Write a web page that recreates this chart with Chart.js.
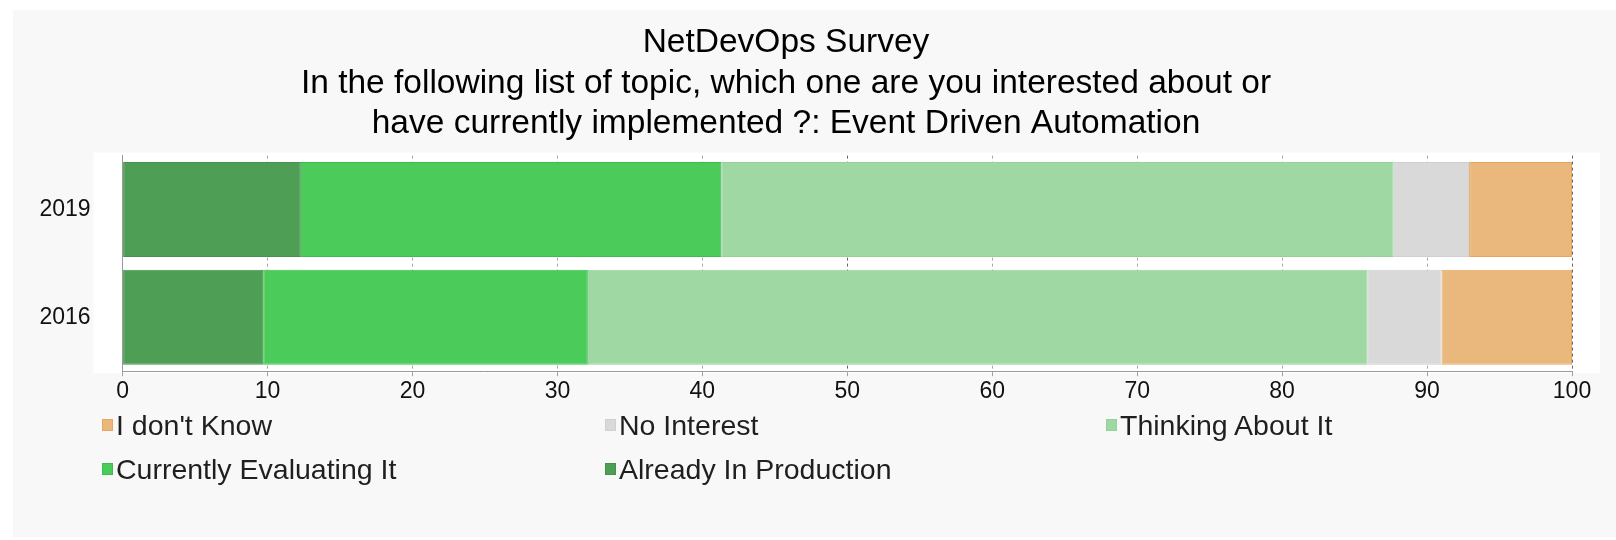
<!DOCTYPE html>
<html>
<head>
<meta charset="utf-8">
<script src="https://cdn.jsdelivr.net/npm/chart.js@4"></script>
<style>
    body {
        margin: 0;
        background: #ffffff;
        font-family: "Liberation Sans", Arial, Helvetica, sans-serif;
    }
    #panel {
        position: absolute;
        left: 13px;
        top: 10px;
        width: 1603px;
        height: 527px;
        background: #f8f8f8;
    }
    #chart-wrap {
        position: absolute;
        left: 0;
        top: 0;
        width: 1616px;
        height: 409px;
    }
    #legend {
        position: absolute;
        left: 102px;
        top: 407px;
        display: grid;
        grid-template-columns: 503px 501px 480px;
        row-gap: 8px;
        font-size: 28.5px;
        color: #1f1f1f;
    }
    .legend-item {
        display: flex;
        align-items: center;
        height: 36px;
    }
    .legend-box {
        width: 9px;
        height: 10px;
        margin-right: 3px;
        border: 1px solid;
    }
</style>
</head>
<body>
<div id="panel"></div>
<div id="chart-wrap"><canvas id="chart"></canvas></div>
<div id="legend"></div>

<script>
const titleLines = [
    'NetDevOps Survey',
    'In the following list of topic, which one are you interested about or',
    'have currently implemented ?: Event Driven Automation'
];
const years = ['2019', '2016'];
const xTicks = [0, 10, 20, 30, 40, 50, 60, 70, 80, 90, 100];

// percent of answers, stacked left to right
const alreadyInProduction = [12.3, 9.7];
const currentlyEvaluating = [29.0, 22.4];
const thinkingAboutIt = [46.4, 53.8];
const noInterest = [5.2, 5.1];
const dontKnow = [7.1, 9.0];

const series = [
    { label: "I don't Know", data: dontKnow, color: '#eab77d', border: '#e3a762' },
    { label: 'No Interest', data: noInterest, color: '#d9d9d9', border: '#cfcfcf' },
    { label: 'Thinking About It', data: thinkingAboutIt, color: '#a0d8a4', border: '#96d19a' },
    { label: 'Currently Evaluating It', data: currentlyEvaluating, color: '#4bcc5a', border: '#3bbf4b' },
    { label: 'Already In Production', data: alreadyInProduction, color: '#4f9e56', border: '#45924c' }
];

// stacked from the left: production first, unknown last
const drawOrder = [4, 3, 2, 1, 0];

const plotBackground = {
    id: 'plotBackground',
    beforeDraw(chart) {
        const { ctx, chartArea } = chart;
        ctx.save();
        ctx.fillStyle = '#ffffff';
        ctx.fillRect(chartArea.left - 29, chartArea.top - 3,
            chartArea.right - chartArea.left + 57, chartArea.bottom - chartArea.top + 5);
        ctx.restore();
    }
};

const chart = new Chart(document.getElementById('chart'), {
    type: 'bar',
    data: {
        labels: years,
        datasets: drawOrder.map(i => ({
            label: series[i].label,
            data: series[i].data,
            backgroundColor: series[i].color,
            borderColor: series[i].border,
            borderWidth: 1,
            borderSkipped: false,
            barPercentage: 0.88,
            categoryPercentage: 1
        }))
    },
    options: {
        indexAxis: 'y',
        responsive: true,
        maintainAspectRatio: false,
        animation: false,
        layout: { padding: { left: 0, right: 44, top: 0, bottom: 0 } },
        font: { family: '"Liberation Sans", Arial, Helvetica, sans-serif' },
        scales: {
            x: {
                stacked: true,
                min: 0,
                max: 100,
                z: 1,
                afterBuildTicks: (scale) => {
                    scale.ticks = xTicks.map(v => ({ value: v }));
                },
                afterFit: (scale) => { scale.height = 34; },
                grid: {
                    display: true,
                    drawTicks: true,
                    tickLength: 5,
                    color: (ctx) => (ctx.tick && (ctx.tick.value === 50 || ctx.tick.value === 100))
                        ? 'rgba(0,0,0,0.6)' : 'rgba(0,0,0,0.35)',
                    tickColor: 'rgba(0,0,0,0.35)',
                    lineWidth: 1
                },
                border: { display: true, color: '#9a9a9a', dash: [3, 3] },
                ticks: {
                    color: '#111111',
                    padding: 2,
                    font: { size: 23, family: '"Liberation Sans", Arial, sans-serif' }
                }
            },
            y: {
                stacked: true,
                afterFit: (scale) => { scale.width = 122.6; },
                grid: { display: false },
                border: { display: true, color: '#9a9a9a', width: 1 },
                ticks: {
                    color: '#111111',
                    padding: 24,
                    font: { size: 23, family: '"Liberation Sans", Arial, sans-serif' }
                }
            }
        },
        plugins: {
            legend: { display: false },
            tooltip: { enabled: false },
            title: {
                display: true,
                text: titleLines,
                color: '#000000',
                padding: { top: 23, bottom: 12 },
                font: { size: 33.5, weight: 'normal', lineHeight: 1.2, family: '"Liberation Sans", Arial, sans-serif' }
            }
        }
    },
    plugins: [plotBackground]
});

// grid-like legend under the chart, in the original order
const legend = document.getElementById('legend');
series.forEach(s => {
    const item = document.createElement('div');
    item.className = 'legend-item';
    const box = document.createElement('span');
    box.className = 'legend-box';
    box.style.background = s.color;
    box.style.borderColor = s.border;
    const text = document.createElement('span');
    text.textContent = s.label;
    item.appendChild(box);
    item.appendChild(text);
    legend.appendChild(item);
});
</script>
</body>
</html>
